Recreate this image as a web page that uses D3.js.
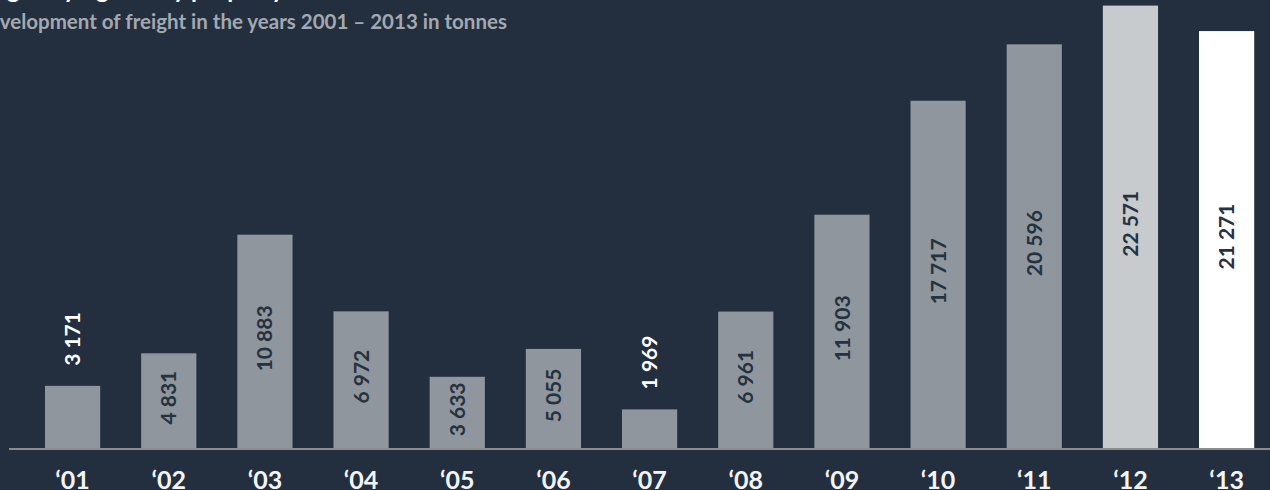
<!DOCTYPE html>
<html>
<head>
<meta charset="utf-8">
<script src="https://cdn.jsdelivr.net/npm/d3@7"></script>
<style>
  html, body { margin: 0; padding: 0; background: #232f3e; overflow: hidden; }
  svg { display: block; }
  text { font-family: Lato, "Noto Sans", sans-serif; font-weight: 700; }
</style>
</head>
<body>
<svg id="chart" width="1270" height="490"></svg>
<script>
// ---- data ----
const years = ["‘01","‘02","‘03","‘04","‘05","‘06","‘07","‘08","‘09","‘10","‘11","‘12","‘13"];
const freight = [3171, 4831, 10883, 6972, 3633, 5055, 1969, 6961, 11903, 17717, 20596, 22571, 21271];
const valueLabels = ["3 171","4 831","10 883","6 972","3 633","5 055","1 969","6 961","11 903","17 717","20 596","22 571","21 271"];
const titleText = "Cargo key figures by property";
const subtitleText = "Development of freight in the years 2001 – 2013 in tonnes";

// ---- layout ----
const W = 1270, H = 490;
const baseY = 448;
const svg = d3.select("#chart");

const x = d3.scaleBand().domain(years).range([24.5, 1274.7]).paddingInner(0.426).paddingOuter(0.213);
const y = d3.scaleLinear().domain([0, d3.max(freight)]).range([baseY, 5.6]);

const barColor = (i) => i === 12 ? "#ffffff" : (i === 11 ? "#c8cbce" : "#8f969e");

// bars
svg.append("g").selectAll("rect").data(freight).join("rect")
  .attr("x", (d, i) => x(years[i]))
  .attr("width", x.bandwidth())
  .attr("y", d => y(d))
  .attr("height", d => baseY - y(d))
  .attr("fill", (d, i) => barColor(i));

// baseline
svg.append("line")
  .attr("x1", 9).attr("x2", W)
  .attr("y1", baseY + 1).attr("y2", baseY + 1)
  .attr("stroke", "#8c8c8c").attr("stroke-width", 2);

// value labels (rotated)
svg.append("g").selectAll("text").data(freight).join("text")
  .each(function(d, i) {
    const cx = x(years[i]) + x.bandwidth() / 2;
    const h = baseY - y(d);
    const inside = h > 65;
    const sel = d3.select(this);
    if (inside) {
      const cy = (y(d) + baseY) / 2 - 3;
      sel.attr("transform", `translate(${cx},${cy}) rotate(-90)`)
         .attr("text-anchor", "middle").attr("fill", "#26323f");
    } else {
      sel.attr("transform", `translate(${cx},${y(d) - 20}) rotate(-90)`)
         .attr("text-anchor", "start").attr("fill", "#ffffff");
    }
    sel.attr("dy", "0.36em").attr("font-size", 21).text(valueLabels[i]);
  });

// year axis labels
const xAxis = d3.axisBottom(x).tickSize(0).tickPadding(0);
const ax = svg.append("g").attr("transform", `translate(0,${baseY})`).call(xAxis);
ax.select(".domain").remove();
ax.selectAll("text")
  .attr("y", 0).attr("dy", 0)
  .attr("transform", "translate(0,41)")
  .attr("fill", "#f4f4f4")
  .attr("font-size", 25)
  .attr("font-family", "Lato, 'Noto Sans', sans-serif")
  .attr("font-weight", 700);

// title (cropped off at the top)
svg.append("text").attr("x", -30).attr("y", -2.5)
  .attr("fill", "#ffffff").attr("font-size", 24).text(titleText);

const subSize = 20.5;
const sub = svg.append("text").attr("y", 29)
  .attr("fill", "#a3a9b0").attr("font-size", subSize).text(subtitleText);
// shift so that the first two letters fall off the left edge
const tmp = svg.append("text").attr("font-size", subSize).text("De");
const deW = tmp.node().getComputedTextLength();
tmp.remove();
sub.attr("x", -deW);
</script>
</body>
</html>
